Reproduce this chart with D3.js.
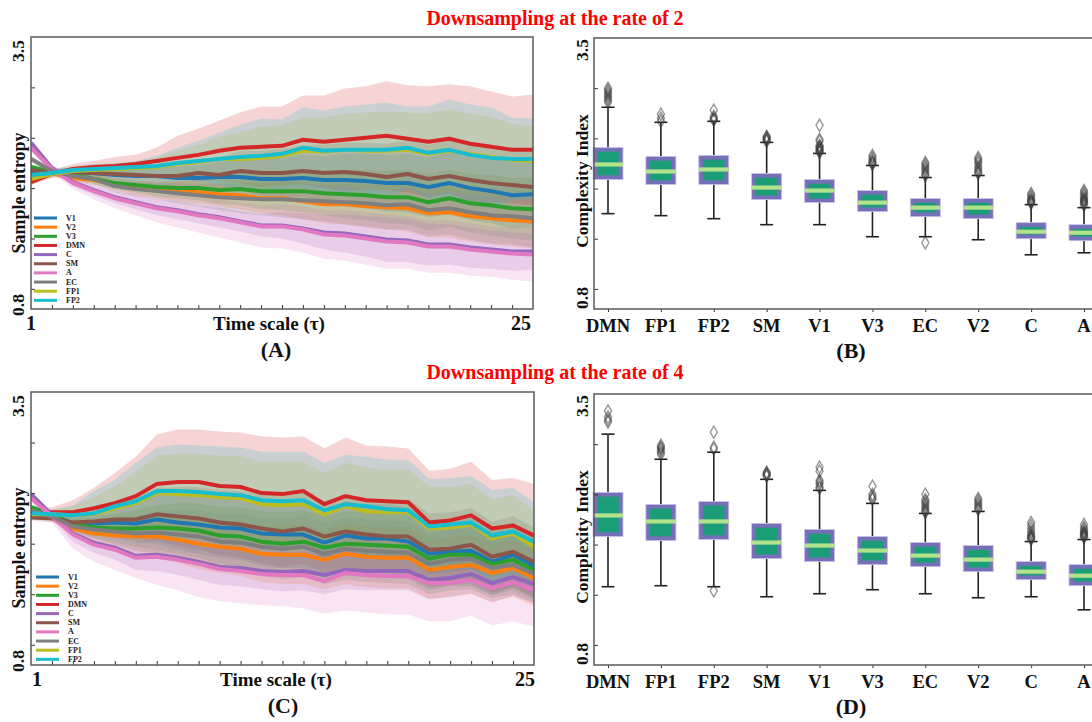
<!DOCTYPE html>
<html>
<head>
<meta charset="utf-8">
<script src="https://cdn.jsdelivr.net/npm/d3@7/dist/d3.min.js"></script>
<style>
  html, body { margin: 0; padding: 0; background: #fff; }
  svg { display: block; font-family: "Liberation Serif", "Times New Roman", serif; }
</style>
</head>
<body>
<svg id="chart" width="1092" height="722"></svg>
<script>
// ---------- shared categories ----------
const timeScale = [1,2,3,4,5,6,7,8,9,10,11,12,13,14,15,16,17,18,19,20,21,22,23,24,25];
const regions = ["V1","V2","V3","DMN","C","SM","A","EC","FP1","FP2"];
const regionColors = ["#1f77b4","#ff7f0e","#2ca02c","#d62728","#9467bd","#8c564b","#e377c2","#7f7f7f","#bcbd22","#17becf"];
const boxOrder = ["DMN","FP1","FP2","SM","V1","V3","EC","V2","C","A"];
const yEndLabels = ["3.5","0.8"];
const yMinorTicks = [1.0,1.5,2.0,2.5,3.0];
const panelTitles = ["Downsampling at the rate of 2","Downsampling at the rate of 4"];

// ---------- downsampling rate 2: mean sample entropy per time scale ----------
const rate2Mean_V1  = [2.15,2.16,2.16,2.15,2.13,2.12,2.12,2.10,2.10,2.11,2.11,2.09,2.09,2.10,2.08,2.08,2.07,2.05,2.05,2.01,2.05,2.00,1.97,1.93,1.94];
const rate2Mean_V2  = [2.12,2.15,2.10,2.08,2.04,2.00,1.98,1.97,1.96,1.94,1.93,1.90,1.90,1.87,1.84,1.84,1.82,1.81,1.80,1.75,1.76,1.72,1.70,1.68,1.67];
const rate2Mean_V3  = [2.21,2.16,2.14,2.09,2.05,2.03,2.01,2.00,2.00,1.98,1.99,1.97,1.97,1.97,1.95,1.94,1.93,1.91,1.91,1.86,1.90,1.85,1.83,1.80,1.79];
const rate2Mean_DMN = [2.06,2.14,2.19,2.21,2.22,2.24,2.27,2.30,2.33,2.37,2.40,2.41,2.42,2.48,2.46,2.48,2.50,2.52,2.49,2.46,2.49,2.44,2.41,2.38,2.38];
const rate2Mean_C   = [2.45,2.20,2.06,1.98,1.91,1.86,1.81,1.78,1.74,1.71,1.67,1.63,1.63,1.60,1.56,1.55,1.52,1.49,1.48,1.44,1.44,1.41,1.39,1.37,1.37];
const rate2Mean_SM  = [2.18,2.15,2.16,2.15,2.14,2.13,2.12,2.12,2.15,2.13,2.17,2.15,2.15,2.17,2.15,2.16,2.14,2.11,2.14,2.09,2.12,2.08,2.05,2.03,2.01];
const rate2Mean_A   = [2.40,2.19,2.05,1.97,1.90,1.85,1.80,1.77,1.73,1.70,1.66,1.62,1.62,1.59,1.54,1.53,1.50,1.47,1.46,1.42,1.42,1.39,1.37,1.35,1.34];
const rate2Mean_EC  = [2.29,2.17,2.12,2.09,2.02,1.99,1.97,1.95,1.93,1.91,1.90,1.89,1.89,1.88,1.87,1.86,1.85,1.83,1.84,1.78,1.80,1.76,1.73,1.72,1.70];
const rate2Mean_FP1 = [2.09,2.14,2.17,2.18,2.19,2.20,2.21,2.24,2.26,2.29,2.29,2.30,2.32,2.37,2.36,2.38,2.37,2.37,2.38,2.34,2.37,2.34,2.31,2.28,2.27];
const rate2Mean_FP2 = [2.13,2.15,2.18,2.19,2.20,2.21,2.22,2.25,2.27,2.29,2.31,2.32,2.34,2.40,2.37,2.38,2.38,2.38,2.40,2.35,2.38,2.33,2.30,2.29,2.29];

// ---------- downsampling rate 2: standard deviation ----------
const rate2Sd_V1  = [0.03,0.03,0.04,0.05,0.06,0.07,0.09,0.11,0.13,0.15,0.17,0.19,0.21,0.23,0.24,0.26,0.27,0.28,0.29,0.30,0.31,0.32,0.32,0.33,0.33];
const rate2Sd_V2  = [0.03,0.03,0.04,0.05,0.06,0.07,0.08,0.10,0.11,0.12,0.14,0.15,0.17,0.18,0.19,0.20,0.21,0.22,0.23,0.24,0.25,0.25,0.26,0.26,0.27];
const rate2Sd_V3  = [0.03,0.03,0.04,0.05,0.06,0.07,0.09,0.10,0.12,0.14,0.16,0.18,0.19,0.21,0.22,0.24,0.25,0.26,0.27,0.28,0.28,0.29,0.30,0.30,0.31];
const rate2Sd_DMN = [0.03,0.04,0.05,0.06,0.09,0.09,0.13,0.22,0.26,0.30,0.35,0.40,0.39,0.44,0.46,0.51,0.51,0.54,0.53,0.55,0.54,0.57,0.55,0.53,0.55];
const rate2Sd_C   = [0.03,0.03,0.04,0.05,0.06,0.07,0.08,0.09,0.09,0.10,0.10,0.11,0.13,0.15,0.17,0.19,0.20,0.22,0.21,0.21,0.20,0.20,0.19,0.19,0.18];
const rate2Sd_SM  = [0.03,0.03,0.04,0.05,0.06,0.08,0.10,0.12,0.14,0.17,0.20,0.22,0.24,0.26,0.28,0.29,0.31,0.33,0.33,0.34,0.35,0.36,0.36,0.36,0.37];
const rate2Sd_A   = [0.03,0.04,0.06,0.08,0.10,0.12,0.14,0.16,0.17,0.19,0.20,0.21,0.22,0.23,0.24,0.25,0.26,0.27,0.26,0.26,0.26,0.26,0.25,0.26,0.27];
const rate2Sd_EC  = [0.03,0.03,0.04,0.05,0.06,0.07,0.08,0.10,0.11,0.13,0.15,0.16,0.18,0.19,0.20,0.22,0.23,0.24,0.25,0.26,0.26,0.27,0.28,0.28,0.29];
const rate2Sd_FP1 = [0.03,0.04,0.04,0.05,0.05,0.06,0.09,0.13,0.17,0.22,0.27,0.31,0.31,0.33,0.34,0.36,0.38,0.39,0.37,0.40,0.41,0.40,0.40,0.36,0.35];
const rate2Sd_FP2 = [0.03,0.04,0.04,0.05,0.05,0.06,0.10,0.15,0.20,0.26,0.32,0.37,0.34,0.40,0.40,0.43,0.45,0.47,0.41,0.46,0.50,0.50,0.50,0.41,0.40];

// ---------- downsampling rate 4: mean sample entropy per time scale ----------
const rate4Mean_V1  = [2.31,2.28,2.20,2.20,2.21,2.20,2.24,2.21,2.19,2.16,2.15,2.10,2.09,2.09,2.01,2.08,2.05,2.05,2.02,1.90,1.92,1.93,1.82,1.89,1.78];
const rate4Mean_V2  = [2.31,2.27,2.15,2.10,2.08,2.07,2.07,2.04,2.00,1.97,1.95,1.90,1.89,1.89,1.84,1.90,1.87,1.86,1.86,1.74,1.77,1.79,1.71,1.76,1.66];
const rate4Mean_V3  = [2.36,2.29,2.19,2.16,2.15,2.15,2.16,2.15,2.13,2.08,2.07,2.02,2.00,2.02,1.96,2.00,1.99,1.98,1.97,1.85,1.89,1.89,1.80,1.84,1.74];
const rate4Mean_DMN = [2.30,2.31,2.31,2.35,2.40,2.47,2.59,2.61,2.61,2.57,2.56,2.50,2.49,2.52,2.39,2.47,2.43,2.42,2.41,2.21,2.23,2.28,2.15,2.18,2.08];
const rate4Mean_C   = [2.49,2.28,2.10,2.01,1.96,1.88,1.89,1.86,1.82,1.77,1.76,1.73,1.72,1.73,1.69,1.74,1.73,1.73,1.73,1.64,1.66,1.70,1.61,1.67,1.60];
const rate4Mean_SM  = [2.26,2.25,2.21,2.22,2.24,2.24,2.29,2.27,2.25,2.21,2.19,2.15,2.12,2.15,2.07,2.12,2.09,2.07,2.07,1.94,1.95,1.99,1.87,1.92,1.82];
const rate4Mean_A   = [2.45,2.27,2.09,1.99,1.94,1.86,1.87,1.84,1.80,1.75,1.73,1.70,1.69,1.69,1.63,1.71,1.69,1.68,1.68,1.61,1.61,1.64,1.56,1.62,1.54];
const rate4Mean_EC  = [2.33,2.27,2.17,2.14,2.12,2.10,2.11,2.09,2.07,2.02,2.01,1.97,1.95,1.97,1.90,1.95,1.93,1.92,1.91,1.80,1.84,1.85,1.76,1.79,1.70];
const rate4Mean_FP1 = [2.29,2.29,2.28,2.29,2.35,2.40,2.50,2.49,2.48,2.46,2.45,2.39,2.38,2.39,2.29,2.37,2.32,2.31,2.31,2.15,2.16,2.19,2.05,2.10,1.97];
const rate4Mean_FP2 = [2.30,2.29,2.28,2.30,2.37,2.42,2.52,2.52,2.51,2.49,2.48,2.43,2.42,2.43,2.33,2.39,2.37,2.34,2.33,2.17,2.19,2.21,2.08,2.12,2.02];

// ---------- downsampling rate 4: standard deviation ----------
const rate4Sd_V1  = [0.03,0.04,0.07,0.11,0.15,0.19,0.24,0.27,0.29,0.30,0.31,0.32,0.33,0.33,0.33,0.34,0.34,0.34,0.34,0.34,0.33,0.33,0.33,0.32,0.32];
const rate4Sd_V2  = [0.03,0.04,0.06,0.09,0.12,0.16,0.20,0.23,0.25,0.26,0.27,0.28,0.29,0.29,0.29,0.30,0.30,0.30,0.30,0.29,0.29,0.29,0.29,0.28,0.28];
const rate4Sd_V3  = [0.03,0.04,0.06,0.10,0.14,0.18,0.22,0.25,0.27,0.28,0.29,0.30,0.31,0.31,0.31,0.32,0.32,0.32,0.32,0.31,0.31,0.31,0.31,0.30,0.30];
const rate4Sd_DMN = [0.03,0.05,0.12,0.20,0.30,0.39,0.49,0.52,0.52,0.54,0.54,0.56,0.56,0.54,0.55,0.58,0.54,0.54,0.53,0.51,0.51,0.53,0.48,0.47,0.51];
const rate4Sd_C   = [0.03,0.04,0.08,0.10,0.12,0.14,0.16,0.17,0.18,0.18,0.18,0.18,0.19,0.19,0.19,0.19,0.19,0.19,0.19,0.19,0.19,0.19,0.19,0.19,0.19];
const rate4Sd_SM  = [0.03,0.04,0.07,0.12,0.16,0.21,0.26,0.29,0.31,0.32,0.33,0.34,0.35,0.35,0.35,0.36,0.36,0.36,0.37,0.36,0.36,0.36,0.35,0.35,0.34];
const rate4Sd_A   = [0.03,0.06,0.14,0.17,0.20,0.20,0.28,0.30,0.33,0.32,0.32,0.31,0.31,0.33,0.32,0.37,0.37,0.38,0.38,0.38,0.38,0.35,0.37,0.39,0.36];
const rate4Sd_EC  = [0.03,0.04,0.06,0.09,0.13,0.17,0.21,0.24,0.26,0.27,0.28,0.29,0.30,0.30,0.30,0.31,0.31,0.31,0.31,0.30,0.30,0.30,0.30,0.29,0.29];
const rate4Sd_FP1 = [0.03,0.04,0.09,0.17,0.22,0.31,0.37,0.40,0.41,0.41,0.42,0.42,0.43,0.42,0.41,0.43,0.43,0.42,0.43,0.41,0.40,0.40,0.39,0.38,0.36];
const rate4Sd_FP2 = [0.03,0.05,0.10,0.22,0.26,0.38,0.43,0.46,0.46,0.47,0.47,0.48,0.49,0.48,0.47,0.49,0.49,0.49,0.50,0.47,0.46,0.46,0.45,0.43,0.39];

// ---------- complexity index box statistics (order = boxOrder) ----------
const rate2WhiskerLow  = [1.75,1.73,1.70,1.64,1.64,1.52,1.52,1.49,1.34,1.36];
const rate2Q1          = [2.09,2.04,2.04,1.89,1.86,1.77,1.72,1.70,1.50,1.48];
const rate2Median      = [2.24,2.17,2.19,2.01,1.98,1.86,1.81,1.81,1.57,1.56];
const rate2Q3          = [2.41,2.32,2.33,2.15,2.09,1.98,1.90,1.90,1.66,1.64];
const rate2WhiskerHigh = [2.81,2.66,2.67,2.46,2.35,2.23,2.11,2.13,1.84,1.81];
const rate2Outliers = [
  [3.00,2.98,2.96,2.94,2.92,2.90,2.88,2.86],
  [2.74,2.70,2.67],
  [2.78,2.72,2.70,2.69,2.68],
  [2.52,2.51,2.50,2.49,2.48,2.47],
  [2.63,2.49,2.47,2.43,2.42,2.41,2.40,2.39,2.38,2.37,2.36],
  [2.33,2.31,2.29,2.27,2.26,2.25,2.24],
  [2.26,2.24,2.22,2.20,2.18,2.16,2.14,2.13,1.46],
  [2.31,2.29,2.27,2.25,2.22,2.20,2.18,2.16,2.15],
  [1.95,1.93,1.91,1.89,1.88,1.87,1.86,1.85],
  [1.98,1.96,1.94,1.92,1.90,1.89,1.88,1.87,1.86,1.85,1.83]
];

const rate4WhiskerLow  = [1.58,1.59,1.58,1.48,1.51,1.55,1.51,1.47,1.48,1.35];
const rate4Q1          = [2.08,2.04,2.05,1.86,1.83,1.80,1.78,1.73,1.65,1.59];
const rate4Median      = [2.29,2.23,2.23,2.02,1.99,1.94,1.89,1.85,1.73,1.69];
const rate4Q3          = [2.52,2.40,2.43,2.21,2.15,2.08,2.02,1.99,1.83,1.80];
const rate4WhiskerHigh = [3.10,2.85,2.92,2.65,2.54,2.41,2.31,2.33,2.03,2.05];
const rate4Outliers = [
  [3.33,3.27,3.24,3.22],
  [2.99,2.97,2.96,2.94,2.92,2.90],
  [3.12,2.97,2.95,1.54],
  [2.72,2.71,2.70,2.69,2.68],
  [2.77,2.73,2.64,2.62,2.60,2.57,2.56],
  [2.58,2.50,2.48,2.46,2.45],
  [2.50,2.45,2.43,2.41,2.39,2.37,2.35,2.33,2.32],
  [2.46,2.44,2.42,2.40,2.38,2.36,2.35],
  [2.22,2.19,2.16,2.13,2.11,2.09,2.08,2.07,2.06,2.05],
  [2.20,2.17,2.15,2.13,2.12,2.11,2.10,2.09,2.08,2.07]
];

// ---------- tables assembled for drawing ----------
const rate2Series = [
  {mean: rate2Mean_V1, sd: rate2Sd_V1}, {mean: rate2Mean_V2, sd: rate2Sd_V2},
  {mean: rate2Mean_V3, sd: rate2Sd_V3}, {mean: rate2Mean_DMN, sd: rate2Sd_DMN},
  {mean: rate2Mean_C, sd: rate2Sd_C}, {mean: rate2Mean_SM, sd: rate2Sd_SM},
  {mean: rate2Mean_A, sd: rate2Sd_A}, {mean: rate2Mean_EC, sd: rate2Sd_EC},
  {mean: rate2Mean_FP1, sd: rate2Sd_FP1}, {mean: rate2Mean_FP2, sd: rate2Sd_FP2}
];
const rate4Series = [
  {mean: rate4Mean_V1, sd: rate4Sd_V1}, {mean: rate4Mean_V2, sd: rate4Sd_V2},
  {mean: rate4Mean_V3, sd: rate4Sd_V3}, {mean: rate4Mean_DMN, sd: rate4Sd_DMN},
  {mean: rate4Mean_C, sd: rate4Sd_C}, {mean: rate4Mean_SM, sd: rate4Sd_SM},
  {mean: rate4Mean_A, sd: rate4Sd_A}, {mean: rate4Mean_EC, sd: rate4Sd_EC},
  {mean: rate4Mean_FP1, sd: rate4Sd_FP1}, {mean: rate4Mean_FP2, sd: rate4Sd_FP2}
];
function boxTable(lo, q1, med, q3, hi, out) {
  return boxOrder.map((name, i) => ({name, lo: lo[i], q1: q1[i], med: med[i], q3: q3[i], hi: hi[i], out: out[i]}));
}
const rate2Boxes = boxTable(rate2WhiskerLow, rate2Q1, rate2Median, rate2Q3, rate2WhiskerHigh, rate2Outliers);
const rate4Boxes = boxTable(rate4WhiskerLow, rate4Q1, rate4Median, rate4Q3, rate4WhiskerHigh, rate4Outliers);

// ---------- drawing ----------
const svg = d3.select("#chart");
svg.append("rect").attr("width", 1092).attr("height", 722).attr("fill", "#fff");

const FRAME = "#5a5a5a";
const INK = "#111";

function rotatedLabel(g, text, x, y, size) {
  g.append("text")
    .attr("transform", `translate(${x},${y}) rotate(-90)`)
    .attr("text-anchor", "middle")
    .attr("dominant-baseline", "central")
    .attr("font-size", size).attr("font-weight", "bold").attr("fill", INK)
    .text(text);
}

function yFrameAxis(g, y, left) {
  const ax = d3.axisLeft(y).tickValues(yMinorTicks).tickSize(-4).tickFormat("");
  const a = g.append("g").attr("transform", `translate(${left},0)`).call(ax);
  a.select(".domain").remove();
  a.selectAll(".tick line").attr("stroke", "#333").attr("stroke-width", 1);
}

function linePanel(cfg) {
  const {series, top, bottom, left, right, legendX, legendY, letter, oneX, twentyFiveX, titleX, letterX} = cfg;
  const g = svg.append("g");
  const x = d3.scaleLinear().domain([1, 25]).range([left, right]);
  const y = d3.scaleLinear().domain([0.8, 3.5]).range([bottom, top]);

  const area = d3.area()
    .x((d, i) => x(timeScale[i]))
    .y0(d => y(d[0] - d[1]))
    .y1(d => y(d[0] + d[1]));
  const line = d3.line().x((d, i) => x(timeScale[i])).y(d => y(d));

  const clipId = "clip" + letter;
  svg.append("clipPath").attr("id", clipId)
    .append("rect").attr("x", left).attr("y", top).attr("width", right - left).attr("height", bottom - top);
  const plot = g.append("g").attr("clip-path", `url(#${clipId})`);

  // shaded ±1 SD bands, then the mean curves on top
  series.forEach((s, k) => {
    plot.append("path")
      .datum(s.mean.map((m, i) => [m, s.sd[i]]))
      .attr("d", area)
      .attr("fill", regionColors[k]).attr("fill-opacity", 0.2).attr("stroke", "none");
  });
  series.forEach((s, k) => {
    plot.append("path")
      .datum(s.mean)
      .attr("d", line)
      .attr("fill", "none").attr("stroke", regionColors[k])
      .attr("stroke-width", 4).attr("stroke-linejoin", "round");
  });

  // inward ticks
  const xa = d3.axisBottom(x).tickValues(timeScale.slice(1, 24)).tickSize(-4).tickFormat("");
  const xg = g.append("g").attr("transform", `translate(0,${bottom})`).call(xa);
  xg.select(".domain").remove();
  xg.selectAll(".tick line").attr("stroke", "#333");
  yFrameAxis(g, y, left);

  g.append("rect").attr("x", left).attr("y", top).attr("width", right - left).attr("height", bottom - top)
    .attr("fill", "none").attr("stroke", FRAME).attr("stroke-width", 1.5);

  // legend
  const lg = g.append("g");
  regions.forEach((name, k) => {
    const yy = legendY + k * 9.15;
    lg.append("line").attr("x1", legendX).attr("x2", legendX + 23).attr("y1", yy).attr("y2", yy)
      .attr("stroke", regionColors[k]).attr("stroke-width", 3);
    lg.append("text").attr("x", legendX + 32).attr("y", yy).attr("dominant-baseline", "central")
      .attr("font-size", 8).attr("font-weight", "bold").attr("fill", "#222").text(name);
  });

  // axis texts
  rotatedLabel(g, yEndLabels[0], 18, top + 14, 17.5);
  rotatedLabel(g, yEndLabels[1], 18, bottom - 4, 17.5);
  rotatedLabel(g, "Sample entropy", 19, top + 156, 18);
  g.append("text").attr("x", oneX).attr("y", bottom + 21).attr("text-anchor", "middle")
    .attr("font-size", 20).attr("font-weight", "bold").attr("fill", INK).text(timeScale[0]);
  g.append("text").attr("x", twentyFiveX).attr("y", bottom + 21).attr("text-anchor", "middle")
    .attr("font-size", 20).attr("font-weight", "bold").attr("fill", INK).text(timeScale[24]);
  g.append("text").attr("x", titleX).attr("y", bottom + 21).attr("text-anchor", "middle")
    .attr("font-size", 19).attr("font-weight", "bold").attr("fill", INK).text("Time scale (τ)");
  g.append("text").attr("x", letterX).attr("y", bottom + 48).attr("text-anchor", "middle")
    .attr("font-size", 22).attr("font-weight", "bold").attr("fill", INK).text(`(${letter})`);
}

function boxPanel(cfg) {
  const {boxes, top, bottom, left, letter} = cfg;
  const g = svg.append("g");
  const x = d3.scalePoint().domain(boxOrder).range([608, 1084]);
  const y = d3.scaleLinear().domain([0.8, 3.5]).range([bottom, top]);
  const half = 15, cap = 6.5, inset = 4.2;

  const b = g.selectAll("g.box").data(boxes).join("g").attr("class", "box");
  b.append("line").attr("x1", d => x(d.name)).attr("x2", d => x(d.name))
    .attr("y1", d => y(d.q3)).attr("y2", d => y(d.hi)).attr("stroke", "#222").attr("stroke-width", 1.6);
  b.append("line").attr("x1", d => x(d.name)).attr("x2", d => x(d.name))
    .attr("y1", d => y(d.q1)).attr("y2", d => y(d.lo)).attr("stroke", "#222").attr("stroke-width", 1.6);
  b.append("line").attr("x1", d => x(d.name) - cap).attr("x2", d => x(d.name) + cap)
    .attr("y1", d => y(d.hi)).attr("y2", d => y(d.hi)).attr("stroke", "#222").attr("stroke-width", 1.6);
  b.append("line").attr("x1", d => x(d.name) - cap).attr("x2", d => x(d.name) + cap)
    .attr("y1", d => y(d.lo)).attr("y2", d => y(d.lo)).attr("stroke", "#222").attr("stroke-width", 1.6);
  b.append("rect").attr("x", d => x(d.name) - half).attr("width", half * 2)
    .attr("y", d => y(d.q3)).attr("height", d => y(d.q1) - y(d.q3))
    .attr("fill", "#7570b8").attr("stroke", "#c9c3ec").attr("stroke-width", 0.8);
  b.append("rect").attr("x", d => x(d.name) - half + inset).attr("width", half * 2 - inset * 2)
    .attr("y", d => y(d.q3) + inset).attr("height", d => Math.max(0, y(d.q1) - y(d.q3) - inset * 2))
    .attr("fill", "#1b9e77");
  b.append("line").attr("x1", d => x(d.name) - half).attr("x2", d => x(d.name) + half)
    .attr("y1", d => y(d.med)).attr("y2", d => y(d.med)).attr("stroke", "#b3e28c").attr("stroke-width", 4.2);

  const diamond = d3.symbol().type(d3.symbolDiamond).size(44);
  b.each(function (d) {
    d3.select(this).selectAll("path.out").data(d.out).join("path").attr("class", "out")
      .attr("transform", v => `translate(${x(d.name)},${y(v)})`)
      .attr("d", diamond)
      .attr("fill", "none").attr("stroke", "#3a3a3a").attr("stroke-opacity", 0.55).attr("stroke-width", 1.3);
  });

  yFrameAxis(g, y, left);
  const xa = d3.axisBottom(x).tickSize(3).tickFormat("");
  const xg = g.append("g").attr("transform", `translate(0,${bottom})`).call(xa);
  xg.select(".domain").remove();
  xg.selectAll(".tick line").attr("stroke", "#333");

  g.append("rect").attr("x", left).attr("y", top).attr("width", 1110 - left).attr("height", bottom - top)
    .attr("fill", "none").attr("stroke", FRAME).attr("stroke-width", 1.5);

  g.selectAll("text.cat").data(boxOrder).join("text").attr("class", "cat")
    .attr("x", d => x(d)).attr("y", bottom + 23).attr("text-anchor", "middle")
    .attr("font-size", 18.5).attr("font-weight", "bold").attr("fill", INK).text(d => d);

  rotatedLabel(g, yEndLabels[0], 581.5, top + 12, 17.5);
  rotatedLabel(g, yEndLabels[1], 581.5, bottom - 11, 17.5);
  rotatedLabel(g, "Complexity Index", 581.5, top + 143, 17.5);
  g.append("text").attr("x", 851).attr("y", bottom + 49).attr("text-anchor", "middle")
    .attr("font-size", 22).attr("font-weight", "bold").attr("fill", INK).text(`(${letter})`);
}

// titles
[[panelTitles[0], 25], [panelTitles[1], 379]].forEach(([t, yy]) => {
  svg.append("text").attr("x", 555).attr("y", yy).attr("text-anchor", "middle")
    .attr("font-size", 20).attr("font-weight", "bold").attr("fill", "#ff0000").text(t);
});

linePanel({series: rate2Series, top: 37, bottom: 309, left: 31, right: 533,
  legendX: 34, legendY: 218, letter: "A", oneX: 31, twentyFiveX: 521, titleX: 269, letterX: 276});
linePanel({series: rate4Series, top: 392, bottom: 665, left: 31, right: 534,
  legendX: 36, legendY: 577, letter: "C", oneX: 37, twentyFiveX: 525, titleX: 276, letterX: 283});
boxPanel({boxes: rate2Boxes, top: 38, bottom: 309, left: 594, letter: "B"});
boxPanel({boxes: rate4Boxes, top: 394, bottom: 665, left: 594, letter: "D"});
</script>
</body>
</html>
